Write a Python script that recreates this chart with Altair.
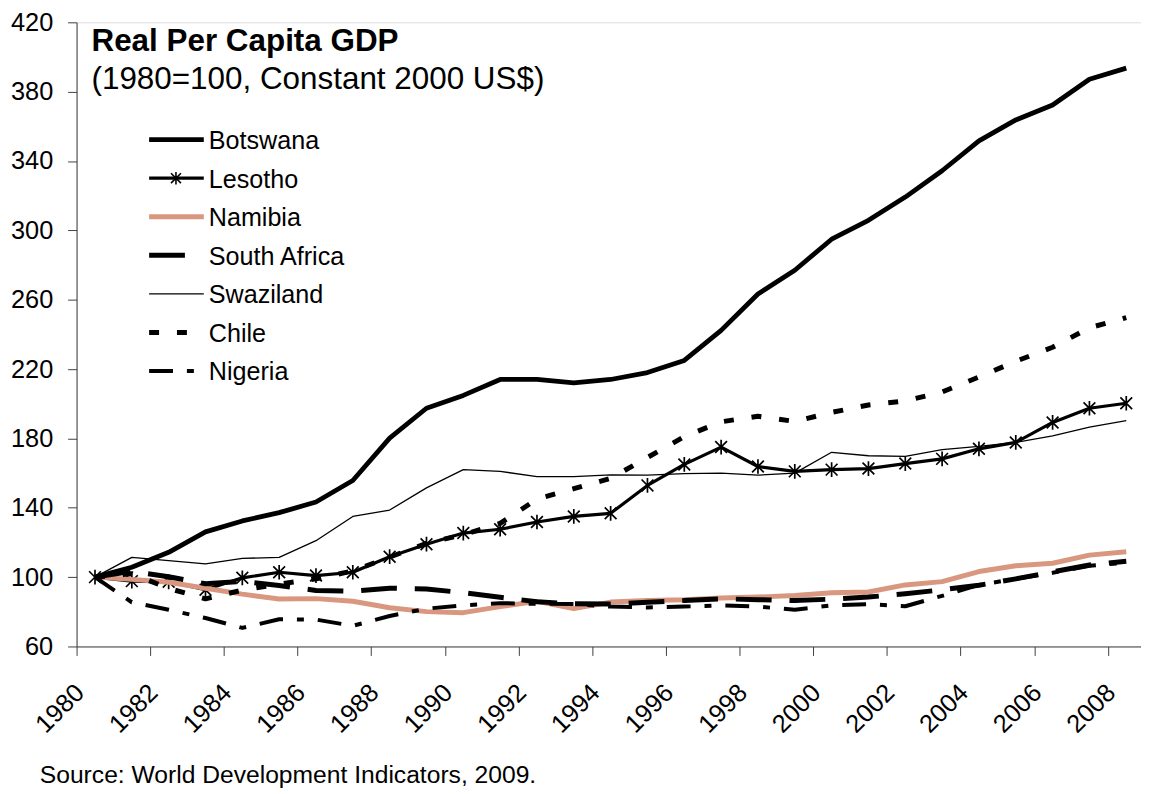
import altair as alt
import pandas as pd

# ---------------- data ----------------
years = list(range(1980, 2009))
botswana = [100, 105.7, 114.3, 126.1, 132.4, 137.2, 143.3, 155.7, 180.2, 197.4, 204.8, 214, 214, 212, 214,
            218, 225, 242.3, 263.3, 277, 294.9, 305.8, 319.2, 334.4, 351.6, 363.7, 372.3, 387.2, 393.6]
lesotho = [100, 97.7, 97.3, 92.7, 99.6, 102.8, 100.9, 102.8, 111.8, 119, 125.4, 127.6, 131.8, 135, 136.8,
           152.9, 165, 175, 163.8, 161, 162, 162.6, 165.5, 168.2, 174, 177.7, 189.2, 197.4, 200.3]
namibia = [100, 98.7, 97, 93.6, 90.2, 87.4, 87.6, 86.1, 82.3, 80.1, 79.5, 83, 86, 81.8, 85.6,
           86.5, 87, 88, 88.5, 89.4, 91.0, 91.4, 95.5, 97.4, 103.2, 106.6, 108, 112.7, 114.6]
south_africa = [100, 103.3, 100.2, 96.2, 97.5, 95.2, 92.3, 91.9, 93.6, 93.2, 91, 88.4, 85.8, 84.6, 84.5,
                85.5, 86.5, 87.5, 87, 86.5, 87.3, 88.5, 90.4, 92.7, 95.3, 99, 103, 107, 109.1]
swaziland = [100, 111.4, 109.5, 107.6, 110.8, 111.4, 121, 135, 138.7, 151.5, 162, 161, 158, 158, 159,
             158.8, 159.7, 160, 158.8, 160, 172, 170, 169.7, 173.5, 175.4, 177.7, 181.5, 186.5, 190.3]
chile = [100, 102, 93.5, 87.5, 92.5, 96, 99, 103.6, 111.5, 119.5, 124.5, 131, 145, 151, 157,
         169, 181, 189.6, 192.8, 189.8, 195, 199.3, 201.6, 206.8, 215.4, 224.5, 232.6, 243.8, 249.7]
nigeria = [100, 85.5, 81.2, 76.4, 70.7, 75.7, 75.5, 71.9, 77.6, 81.8, 83.7, 85, 84.6, 84.5, 83,
           82.5, 83, 83.7, 83, 81.2, 83.7, 84.4, 83.2, 89.2, 95.5, 99, 102.5, 106.5, 108.3]

countries = ["Botswana", "Lesotho", "Namibia", "South Africa", "Swaziland", "Chile", "Nigeria"]
values = [botswana, lesotho, namibia, south_africa, swaziland, chile, nigeria]

y_ticks = list(range(60, 421, 40))
x_ticks = [y - 0.5 for y in range(1980, 2009, 2)]

title_text = "Real Per Capita GDP"
subtitle_text = "(1980=100, Constant 2000 US$)"
source_text = "Source: World Development Indicators, 2009."

# ---------------- styles ----------------
FONT = "Liberation Sans"
styles = {
    "Botswana": dict(color="black", strokeWidth=4.8),
    "Lesotho": dict(color="black", strokeWidth=3.2),
    "Namibia": dict(color="#D9977F", strokeWidth=5),
    "South Africa": dict(color="black", strokeWidth=5, strokeDash=[36, 18]),
    "Swaziland": dict(color="black", strokeWidth=1.3),
    "Chile": dict(color="black", strokeWidth=5, strokeDash=[10, 18]),
    "Nigeria": dict(color="black", strokeWidth=4, strokeDash=[24, 14, 7, 14]),
}
legend_dash = {"South Africa": [36, 22]}
ASTERISK = "M-1,-1L1,1M-1,1L1,-1M0,-1.25L0,1.25"

W, H = 1071, 628

df = pd.DataFrame({"year": years})
for c, v in zip(countries, values):
    df[c] = v
long = df.melt("year", var_name="country", value_name="value")

x_enc = alt.X(
    "year:Q",
    scale=alt.Scale(domain=[1979.5, 2008.4], nice=False, zero=False),
    axis=alt.Axis(
        values=x_ticks, labelExpr="'' + (datum.value + 0.5)", labelAngle=-45,
        labelAlign="right", labelBaseline="middle", labelOffset=3, labelPadding=33,
        tickSize=9, labelFontSize=25.5, labelFont=FONT, labelColor="black",
        domainColor="#404040", tickColor="#404040", grid=False, title=None,
        labelOverlap=False, labelBound=False, labelFlush=False,
    ),
)
y_enc = alt.Y(
    "value:Q",
    scale=alt.Scale(domain=[60, 420], nice=False, zero=False),
    axis=alt.Axis(
        values=y_ticks, tickSize=9, labelPadding=15, labelFontSize=25.5, labelFont=FONT,
        labelColor="black", domainColor="#404040", tickColor="#404040", grid=False,
        title=None, labelOverlap=False, labelBound=False, labelFlush=False,
    ),
)

layers = []
for c in countries:
    st = styles[c]
    layers.append(
        alt.Chart(long).transform_filter(alt.datum.country == c)
        .mark_line(strokeJoin="round", **st)
        .encode(x=x_enc, y=y_enc)
    )
    if c == "Lesotho":
        layers.append(
            alt.Chart(long).transform_filter(alt.datum.country == c)
            .mark_point(shape=ASTERISK, filled=False, color="black", strokeWidth=1.7, size=140, opacity=1)
            .encode(x=x_enc, y=y_enc)
        )

# ---------------- legend (inside plot) ----------------
row0, step = 118, 38.8
for i, c in enumerate(countries):
    st = dict(styles[c])
    if c in legend_dash:
        st["strokeDash"] = legend_dash[c]
    ry = row0 + i * step
    layers.append(
        alt.Chart(pd.DataFrame({"label": [c]}))
        .mark_rule(**st)
        .encode(x=alt.value(73), x2=alt.value(128), y=alt.value(ry))
    )
    if c == "Lesotho":
        layers.append(
            alt.Chart(pd.DataFrame({"label": [c]}))
            .mark_point(shape=ASTERISK, filled=False, color="black", strokeWidth=1.6, size=100, opacity=1)
            .encode(x=alt.value(100), y=alt.value(ry))
        )
    layers.append(
        alt.Chart(pd.DataFrame({"label": [c]}))
        .mark_text(align="left", baseline="alphabetic", fontSize=25.3, font=FONT, color="black")
        .encode(x=alt.value(133), y=alt.value(ry + 9.5), text="label:N")
    )

# ---------------- titles / source ----------------
layers.append(
    alt.Chart(pd.DataFrame({"t": [title_text]}))
    .mark_text(align="left", baseline="alphabetic", fontSize=31.6, fontWeight="bold", font=FONT, color="black")
    .encode(x=alt.value(15), y=alt.value(28.5), text="t:N")
)
layers.append(
    alt.Chart(pd.DataFrame({"t": [subtitle_text]}))
    .mark_text(align="left", baseline="alphabetic", fontSize=31.6, font=FONT, color="black")
    .encode(x=alt.value(15), y=alt.value(67), text="t:N")
)
layers.append(
    alt.Chart(pd.DataFrame({"t": [source_text]}))
    .mark_text(align="left", baseline="alphabetic", fontSize=24.8, font=FONT, color="black")
    .encode(x=alt.value(-37), y=alt.value(765), text="t:N")
)

chart = (
    alt.layer(*layers)
    .properties(
        width=W, height=H,
        padding={"left": 69, "top": 12, "right": 0, "bottom": 142},
        autosize=alt.AutoSizeParams(type="none"),
        background="white",
    )
    .configure_view(stroke=None)
    .configure(font=FONT)
)

chart.save("out.html", embed_options={"renderer": "svg", "actions": False})
